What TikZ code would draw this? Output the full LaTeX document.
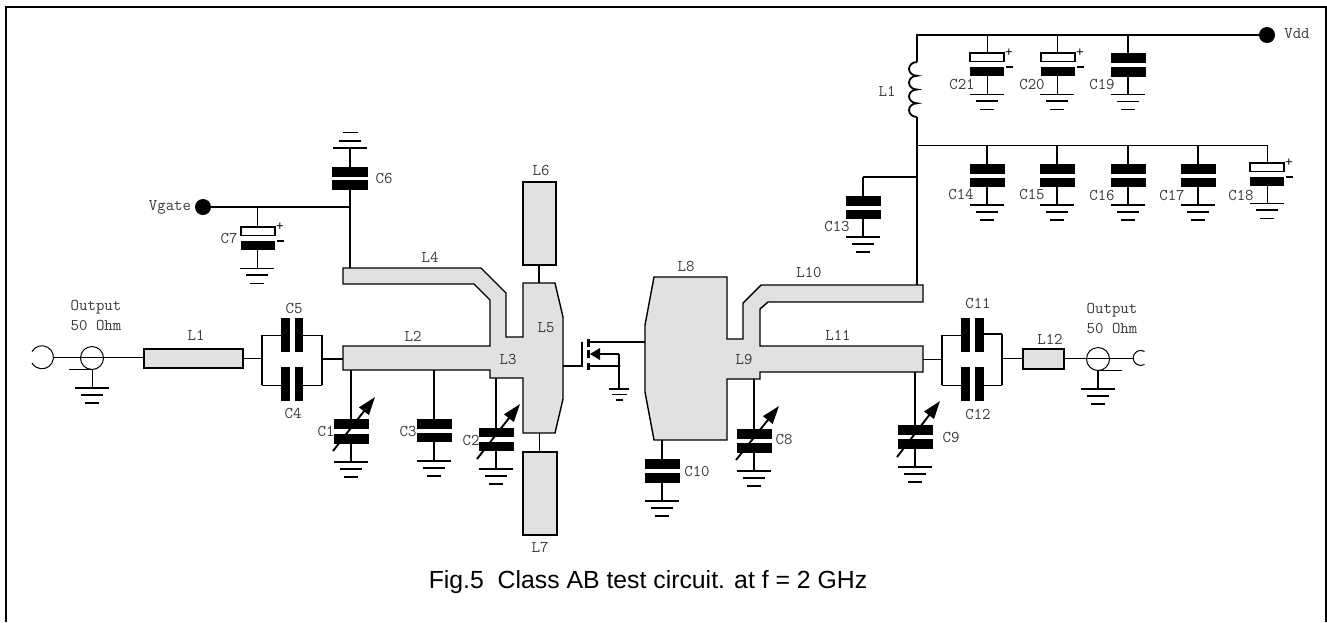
\documentclass[tikz,border=0pt]{standalone}
\usepackage{fontspec}
\setmainfont{Liberation Sans}
\usetikzlibrary{arrows.meta,calc}
\definecolor{strip}{HTML}{E1E1E1}
\definecolor{lab}{HTML}{3A3A3A}
\tikzset{
  x=1pt,y=-1pt,
  thinw/.style={line width=1pt,black},
  wire/.style={line width=1.8pt,black},
  outl/.style={draw=black,fill=strip,line width=1.4pt,line join=miter},
  lbox/.style={rectangle,outl,inner sep=0pt,outer sep=0pt,minimum size=1pt},
  plate/.style={rectangle,fill=black,inner sep=0pt,outer sep=0pt,minimum size=1pt},
  wplate/.style={rectangle,draw=black,fill=white,line width=1.4pt,inner sep=0pt,outer sep=0pt,minimum size=1pt},
  tag/.style={inner sep=0pt,text=lab,font=\ttfamily\fontsize{16.4}{18}\selectfont},
  dotn/.style={circle,fill=black,inner sep=0pt,minimum size=16pt},
  varr/.style={line width=1.9pt,-{Triangle[length=18pt,width=12pt]}},
}
\newcommand{\BoxN}[6]{\node[#1,minimum width={(#5)-(#3)},minimum height={(#6)-(#4)}] (#2) at ({((#3)+(#5))/2},{((#4)+(#6))/2}) {};}
\newcommand{\Gnd}[3]{%
  \coordinate (#1) at (#2,#3);
  \draw[line width=1.6pt] ($(#1)+(-17,0)$) -- ($(#1)+(17,0)$);
  \draw[line width=1.6pt] ($(#1)+(-11,7)$) -- ($(#1)+(11,7)$);
  \draw[line width=1.6pt] ($(#1)+(-7,15)$) -- ($(#1)+(7,15)$);}
\newcommand{\GndT}[3]{%
  \coordinate (#1) at (#2,#3);
  \draw[line width=1pt] ($(#1)+(-17,0)$) -- ($(#1)+(17,0)$);
  \draw[line width=1.8pt] ($(#1)+(-11,7)$) -- ($(#1)+(11,7)$);
  \draw[line width=1pt] ($(#1)+(-7,15)$) -- ($(#1)+(7,15)$);}
% name, x, ytop, plate 1 top, plate 2 top, ground y
\newcommand{\CapG}[6]{%
  \coordinate (#1-t) at (#2,#3);
  \BoxN{plate}{#1-a}{#2-17.5}{#4}{#2+17.5}{#4+9.5}
  \BoxN{plate}{#1-b}{#2-17.5}{#5}{#2+17.5}{#5+9.5}
  \Gnd{#1-g}{#2}{#6}
  \draw[wire] (#1-t) -- (#1-a.north);
  \draw[wire] (#1-b.south) -- (#1-g);}
% polarised: name, x, ytop, white plate top, black plate top, ground y, plate left x
\newcommand{\CapP}[7]{%
  \coordinate (#1-t) at (#2,#3);
  \BoxN{wplate}{#1-a}{#7}{#4}{#7+34}{#4+8.5}
  \BoxN{plate}{#1-b}{#7}{#5}{#7+34}{#5+9}
  \GndT{#1-g}{#2}{#6}
  \draw[thinw] (#1-t) -- (#1-a.north -| #1-t);
  \draw[thinw] (#1-b.south -| #1-t) -- (#1-g);
  \node[inner sep=0pt,font=\fontsize{13}{13}\selectfont] (#1-p) at (#7+39,#4) {+};
  \draw[line width=1.1pt] (#7+36,#5) -- (#7+43,#5);}
\newcommand{\Var}[5]{\coordinate (#1-s) at (#2,#3); \coordinate (#1-e) at (#4,#5); \draw[varr] (#1-s) -- (#1-e);}
\newcommand{\Tag}[3]{\node[tag] (t#1) at (#2,#3) {#1};}
\begin{document}
\begin{tikzpicture}
\useasboundingbox (0,0) rectangle (1327,622);
\fill[white] (0,0) rectangle (1327,622);
% frame
\coordinate (fa) at (6,622); \coordinate (fb) at (6,7); \coordinate (fc) at (1326,7); \coordinate (fd) at (1326,622);
\draw[line width=2.2pt] (fa) -- (fb) -- (fc) -- (fd);

% ---- strips
\draw[outl] (343,268) -- (481,268) -- (506,293) -- (506,337) -- (523,337) -- (523,283) -- (555,283)
  -- (563,317) -- (563,399) -- (555,433) -- (523,433) -- (523,378) -- (490,378) -- (490,370) -- (343,370)
  -- (343,346) -- (490,346) -- (490,300) -- (474,284) -- (343,284) -- cycle;
\draw[outl] (654,277) -- (727,277) -- (727,339) -- (743,339) -- (743,303) -- (761,285) -- (923,285)
  -- (923,302) -- (768,302) -- (760,309) -- (760,346) -- (923,346) -- (923,372) -- (760,372) -- (760,379)
  -- (727,379) -- (727,440) -- (654,440) -- (645,392) -- (645,325) -- cycle;
\coordinate (L5t) at (539,283); \coordinate (L5b) at (539,433); \coordinate (L2l) at (343,359);
\coordinate (L5r) at (563,366); \coordinate (L8l) at (645,342); \coordinate (L11r) at (923,359);
\coordinate (L4t) at (350,268); \coordinate (L10t) at (917,285);
\BoxN{lbox}{bL1}{144}{349}{243}{368}
\BoxN{lbox}{bL6}{523}{182}{556}{265}
\BoxN{lbox}{bL7}{523}{452}{557}{535}
\BoxN{lbox}{bL12}{1023}{349}{1064}{369}
\draw[wire] (bL6.south -| L5t) -- (L5t);
\draw[thinw] (L5b) -- (bL7.north -| L5b);

% ---- left port
\coordinate (pl) at (42,357);
\node[circle,draw,line width=1pt,inner sep=0pt,minimum size=23pt] (cl) at (92,358) {};
\draw[thinw] ($(pl)+(-10,-5.5)$) arc[start angle=150,end angle=-150,radius=11.5pt];
\coordinate (pls) at (53,357);
\draw[thinw] (pls) -- (bL1.west |- pls);
\coordinate (clg) at (92,369); \coordinate (cls) at (69,369);
\draw[thinw] (cls) -- (clg);
\Gnd{Ga}{92}{388}
\draw[thinw] (clg) -- (Ga);
% ---- C4/C5
\coordinate (ba) at (262,335); \coordinate (bb) at (262,385); \coordinate (bc) at (322,335); \coordinate (bd) at (322,385);
\draw[line width=1.6pt] (ba) -- (bb); \draw[line width=1.6pt] (bc) -- (bd);
\BoxN{plate}{C5a}{281}{318}{290}{352}
\BoxN{plate}{C5b}{295}{318}{303}{352}
\BoxN{plate}{C4a}{281}{367}{290}{401}
\BoxN{plate}{C4b}{295}{367}{303}{401}
\draw[thinw] (ba) -- (C5a.west |- ba); \draw[thinw] (C5b.east |- bc) -- (bc);
\draw[thinw] (bb) -- (C4a.west |- bb); \draw[thinw] (C4b.east |- bd) -- (bd);
\coordinate (lbar) at (262,358.5); \coordinate (rbar) at (322,359);
\draw[thinw] (bL1.east |- lbar) -- (lbar);
\draw[wire] (rbar) -- (L2l);
% ---- C1 C3 C2
\CapG{C1}{351}{370}{419}{434}{462}
\Var{A1}{333}{451}{375}{397}
\CapG{C3}{434}{370}{419}{432.5}{461}
\CapG{C2}{496}{378}{427.5}{441.5}{469}
\Var{A2}{477}{459}{520}{404}
% ---- transistor
\coordinate (ga) at (582,366); \coordinate (gb) at (582,342);
\draw[wire] (L5r) -- (ga) -- (gb);
\coordinate (d) at (588,342); \coordinate (s) at (588,366); \coordinate (sj) at (619,366); \coordinate (st) at (619,354);
\draw[line width=3pt] (588,339) -- (588,347); \draw[line width=3pt] (588,350) -- (588,358); \draw[line width=3pt] (588,363) -- (588,370);
\draw[wire] (d) -- (L8l);
\draw[wire] (s) -- (sj);
\draw[wire] (st) -- (598,354);
\fill (590,354) -- (600,348) -- (600,360) -- cycle;
\coordinate (Gt) at (619,389);
\draw[line width=1.8pt] (609,389) -- (629,389);
\draw[line width=1.6pt] (612,394.5) -- (627,394.5);
\draw[line width=1.6pt] (616,400) -- (623,400);
\draw[wire] (st) -- (Gt);
\fill (sj) circle (1.6pt);
% ---- C10 C8 C9
\CapG{C10}{662}{440}{459}{473}{501}
\CapG{C8}{754}{379}{429}{443}{471}
\Var{A8}{736}{460}{779}{406}
\CapG{C9}{915}{372}{425}{439}{467}
\Var{A9}{897}{457}{940}{401}
% ---- C11/C12
\coordinate (bs) at (942,335); \coordinate (bt) at (942,385); \coordinate (bu) at (1002,334); \coordinate (bv) at (1002,385);
\draw[line width=1.6pt] (bs) -- (bt); \draw[line width=2pt] (bu) -- (bv);
\BoxN{plate}{C11a}{961}{318}{970}{352}
\BoxN{plate}{C11b}{975}{318}{984}{352}
\BoxN{plate}{C12a}{961}{367}{970}{401}
\BoxN{plate}{C12b}{975}{367}{984}{401}
\draw[thinw] (bs) -- (C11a.west |- bs); \draw[wire] (C11b.east |- bu) -- (bu);
\draw[thinw] (bt) -- (C12a.west |- bt); \draw[thinw] (C12b.east |- bv) -- (bv);
\coordinate (lb2) at (942,359); \coordinate (rb2) at (1002,358);
\draw[thinw] (L11r) -- (lb2);
\draw[thinw] (rb2) -- (bL12.west |- rb2);
% ---- right port
\node[circle,draw,line width=1pt,inner sep=0pt,minimum size=23pt] (cr) at (1098,359) {};
\coordinate (prs) at (1133,358);
\draw[thinw] (bL12.east |- prs) -- (prs);
\draw[thinw] (1144.5,351.5) arc[start angle=60,end angle=300,radius=7.5pt];
\coordinate (crg) at (1098,370); \coordinate (crs) at (1122,370);
\draw[thinw] (crg) -- (crs);
\Gnd{Gb}{1098}{389}
\draw[wire] (crg) -- (Gb);
% ---- Vgate, C6, C7
\node[dotn] (vg) at (203,207) {};
\coordinate (vj) at (350,207);
\draw[wire] (vg) -- (vj);
\draw[wire] (vj) -- (L4t);
\BoxN{plate}{C6a}{332}{167}{368}{176.5}
\BoxN{plate}{C6b}{332}{180}{368}{189.5}
\coordinate (C6g) at (350,148);
\draw[line width=1.6pt] (333,148) -- (367,148);
\draw[line width=1.6pt] (339,141) -- (361,141);
\draw[line width=1.6pt] (343,132.5) -- (358,132.5);
\draw[wire] (C6g) -- (C6a.north);
\draw[wire] (C6b.south) -- (vj);
\CapP{C7}{257}{207}{227}{241}{268}{241}
% ---- Vdd rail
\node[dotn] (vd) at (1267,35) {};
\coordinate (ra) at (917,35);
\coordinate (co) at (917,62); \coordinate (cp) at (917,117);
\draw[wire] (vd) -- (ra) -- (co);
\draw[wire] (co) arc[start angle=90,end angle=270,x radius=8pt,y radius=6.875pt]
  arc[start angle=90,end angle=270,x radius=8pt,y radius=6.875pt]
  arc[start angle=90,end angle=270,x radius=8pt,y radius=6.875pt]
  arc[start angle=90,end angle=270,x radius=8pt,y radius=6.875pt];
\draw[wire] (cp) -- (L10t);
\coordinate (rb) at (917,145); \coordinate (re) at (1267,145); \coordinate (rc) at (917,177);
\draw[thinw] (rb) -- (re);
% C21 C20 C19
\CapP{C21}{987}{35}{53}{67}{94}{970}
\CapP{C20}{1057}{35}{53}{67}{94}{1041}
\CapG{C19}{1128}{35}{53}{67}{94.5}
% C13..C18
\coordinate (C13j) at (863,177);
\draw[wire] (rc) -- (C13j);
\CapG{C13}{863}{177}{196}{209.5}{237}
\CapG{C14}{987}{145}{164}{177.5}{205}
\CapG{C15}{1057}{145}{164}{177.5}{205}
\CapG{C16}{1128}{145}{164}{177.5}{205}
\CapG{C17}{1198}{145}{164}{177.5}{205}
\CapP{C18}{1267}{145}{163}{177}{203}{1250}

% ---- labels
\node[tag] (tOl) at (96,307) {Output};
\node[tag] (tOhl) at (96,325) {50 Ohm};
\node[tag] (tOr) at (1112,310) {Output};
\node[tag] (tOhr) at (1112,328) {50 Ohm};
\node[tag] (tL1a) at (196,335) {L1};
\node[tag] (tL1b) at (887,91) {L1};
\Tag{C5}{294}{308}
\Tag{C4}{293}{413}
\Tag{C1}{326}{431}
\Tag{L2}{413}{336}
\Tag{L4}{430}{257}
\Tag{L3}{508}{359}
\Tag{L5}{546}{328}
\Tag{C3}{408}{431}
\Tag{C2}{471}{440}
\Tag{L6}{541}{170}
\Tag{L7}{540}{547}
\Tag{L8}{686}{266}
\Tag{L10}{809}{272}
\Tag{L11}{838}{335}
\Tag{L9}{744}{359}
\Tag{C10}{697}{471}
\Tag{C8}{784}{439}
\Tag{C9}{951}{437}
\Tag{C11}{978}{303}
\Tag{C12}{978}{414}
\Tag{L12}{1050}{339}
\Tag{C13}{837}{226}
\Tag{C21}{962}{84}
\Tag{C20}{1032}{84}
\Tag{C19}{1102}{84}
\Tag{C14}{961}{194}
\Tag{C15}{1032}{194}
\Tag{C16}{1102}{195}
\Tag{C17}{1172}{195}
\Tag{C18}{1241}{195}
\Tag{C6}{384}{178}
\Tag{C7}{229}{238}
\Tag{Vgate}{170}{207}
\Tag{Vdd}{1297}{34}
\node[anchor=base,inner sep=0pt,font=\fontsize{24.8}{28}\selectfont,text=black] (cap) at (648,588) {Fig.5\ \ Class AB test circuit. at f = 2 GHz};
\end{tikzpicture}
\end{document}
